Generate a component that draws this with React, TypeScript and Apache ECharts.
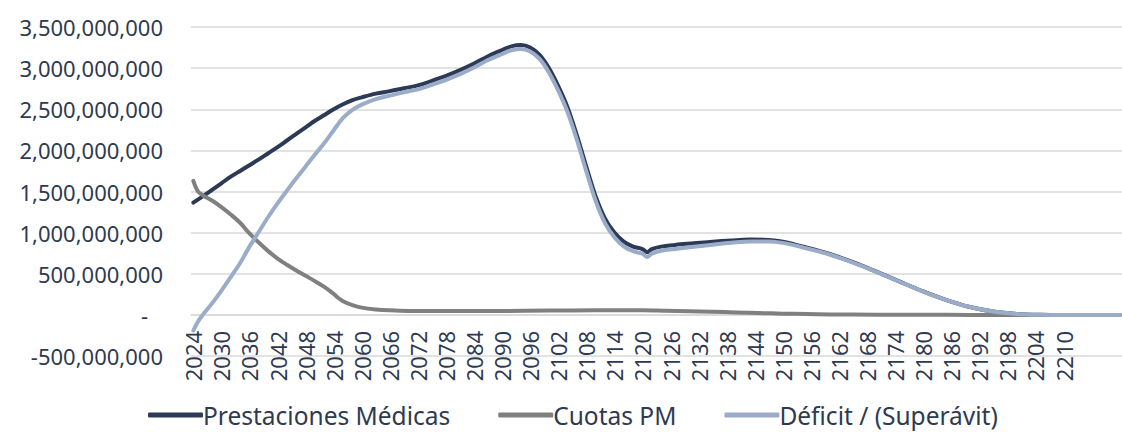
import React, { useEffect, useRef } from "react";
import * as echarts from "echarts";

// Category axis: every year from 2024 to 2222
const FIRST_YEAR = 2024;
const LAST_YEAR = 2222;
const LAST_LABEL_YEAR = 2210;
const years: string[] = [];
for (let y = FIRST_YEAR; y <= LAST_YEAR; y++) years.push(String(y));

// Values in millions at key years
const prestYears = [2024, 2026, 2028, 2030, 2032, 2034, 2036, 2038, 2040, 2042, 2044, 2046, 2048, 2050, 2052, 2054, 2056, 2058, 2060, 2063, 2066, 2069, 2072, 2075, 2078, 2081, 2084, 2087, 2090, 2092, 2094, 2096, 2098, 2100, 2102, 2104, 2106, 2108, 2110, 2112, 2114, 2116, 2118, 2120, 2121, 2122, 2124, 2127, 2131, 2135, 2139, 2143, 2147, 2150, 2155, 2160, 2165, 2170, 2175, 2180, 2185, 2190, 2195, 2200, 2205, 2210, 2222];
const prestValues = [1365, 1440, 1520, 1600, 1680, 1750, 1820, 1890, 1965, 2040, 2120, 2200, 2280, 2360, 2430, 2500, 2560, 2610, 2645, 2690, 2720, 2755, 2790, 2845, 2905, 2975, 3055, 3145, 3220, 3265, 3280, 3250, 3160, 3000, 2780, 2520, 2180, 1800, 1440, 1170, 1000, 890, 830, 800, 760, 800, 830, 850, 870, 890, 905, 915, 910, 890, 820, 740, 640, 525, 405, 285, 180, 95, 40, 12, 2, 0, 0];

const cuotasYears = [2024, 2025, 2026, 2028, 2030, 2032, 2034, 2036, 2038, 2040, 2042, 2044, 2046, 2048, 2050, 2052, 2054, 2055, 2056, 2058, 2060, 2063, 2066, 2070, 2080, 2090, 2100, 2110, 2120, 2125, 2130, 2135, 2140, 2145, 2150, 2155, 2160, 2170, 2180, 2190, 2222];
const cuotasValues = [1630, 1500, 1455, 1390, 1310, 1220, 1120, 990, 880, 775, 685, 610, 540, 475, 410, 340, 255, 205, 165, 118, 88, 66, 55, 48, 46, 48, 52, 56, 56, 50, 44, 37, 30, 22, 15, 10, 6, 3, 1, 0, 0];

const deficitYears = [2024, 2025, 2026, 2028, 2030, 2032, 2034, 2036, 2038, 2040, 2042, 2044, 2046, 2048, 2050, 2052, 2054, 2056, 2058, 2060, 2063, 2066, 2069, 2072, 2075, 2078, 2081, 2084, 2087, 2090, 2092, 2094, 2096, 2098, 2100, 2102, 2104, 2106, 2108, 2110, 2112, 2114, 2116, 2118, 2120, 2121, 2122, 2124, 2127, 2131, 2135, 2139, 2143, 2147, 2150, 2155, 2160, 2165, 2170, 2175, 2180, 2185, 2190, 2195, 2200, 2205, 2210, 2222];
const deficitValues = [-190, -80, 0, 140, 295, 460, 630, 830, 1010, 1190, 1355, 1510, 1660, 1805, 1950, 2090, 2245, 2395, 2492, 2557, 2624, 2665, 2707, 2742, 2798, 2858, 2928, 3008, 3098, 3172, 3217, 3232, 3202, 3112, 2948, 2726, 2464, 2124, 1744, 1384, 1114, 944, 834, 774, 744, 704, 744, 779, 802, 828, 853, 876, 893, 893, 875, 810, 734, 636, 522, 403, 284, 180, 95, 40, 12, 2, 0, 0];

const seriesNames = ["Prestaciones Médicas", "Cuotas PM", "Déficit / (Superávit)"];
const seriesColors = ["#2C3A55", "#808080", "#9BACC9"];

const yMin = -500000000;
const yMax = 3500000000;
const yStep = 500000000;

const TEXT = "#2E3A4F";
const FONT = "'Noto Sans', 'Open Sans', sans-serif";

const GRID_TOP = 27;
const GRID_BOTTOM = 76;
const GRID_H = 432 - GRID_TOP - GRID_BOTTOM;
// distance from the bottom of the grid up to the zero line
const ZERO_OFFSET = (GRID_H * (0 - yMin)) / (yMax - yMin);

function pairs(ys: number[], vs: number[]) {
  return ys.map((y, i) => [y - FIRST_YEAR, vs[i] * 1e6]);
}

export default function App() {
  const ref = useRef<HTMLDivElement>(null);
  useEffect(() => {
    if (!ref.current) return;
    const chart = echarts.init(ref.current, undefined, { renderer: "svg" });
    const dataSets = [
      pairs(prestYears, prestValues),
      pairs(cuotasYears, cuotasValues),
      pairs(deficitYears, deficitValues),
    ];
    chart.setOption({
      animation: false,
      grid: { left: 191, right: 0, top: GRID_TOP, bottom: GRID_BOTTOM, containLabel: false },
      legend: {
        data: seriesNames,
        left: 143,
        top: 397,
        icon: "roundRect",
        itemWidth: 55,
        itemHeight: 5,
        itemGap: 48,
        textStyle: { fontSize: 24.5, lineHeight: 26, color: TEXT, fontFamily: FONT, padding: [0, 0, 0, -5] },
      },
      xAxis: {
        type: "category",
        data: years,
        boundaryGap: true,
        offset: -ZERO_OFFSET,
        axisTick: { show: false },
        axisLine: { onZero: false, lineStyle: { color: "#D9D9D9", width: 1.5 } },
        axisLabel: {
          interval: 5,
          rotate: 90,
          margin: 16,
          fontSize: 22,
          color: TEXT,
          fontFamily: FONT,
          formatter: (v: string) => (Number(v) > LAST_LABEL_YEAR ? "" : v),
        },
        splitLine: { show: false },
      },
      yAxis: {
        type: "value",
        min: yMin,
        max: yMax,
        interval: yStep,
        axisLine: { show: false },
        axisTick: { show: false },
        splitLine: { lineStyle: { color: "#D9D9D9", width: 1.5 } },
        axisLabel: {
          margin: 28,
          fontSize: 22,
          color: TEXT,
          fontFamily: FONT,
          formatter: (v: number) =>
            v === 0 ? "{d|-}" : v.toLocaleString("en-US"),
          rich: {
            d: { fontSize: 22, color: TEXT, fontFamily: FONT, padding: [0, 15, 0, 0] },
          },
        },
      },
      series: seriesNames.map((name, i) => ({
        name,
        type: "line",
        data: dataSets[i],
        symbol: "none",
        smooth: 0.35,
        color: seriesColors[i],
        lineStyle: { width: 4, color: seriesColors[i], cap: "round", join: "round" },
      })),
    });
    return () => chart.dispose();
  }, []);
  return (
    <div
      ref={ref}
      style={{ position: "fixed", left: 0, top: 0, width: 1122, height: 432, background: "#fff" }}
    />
  );
}
